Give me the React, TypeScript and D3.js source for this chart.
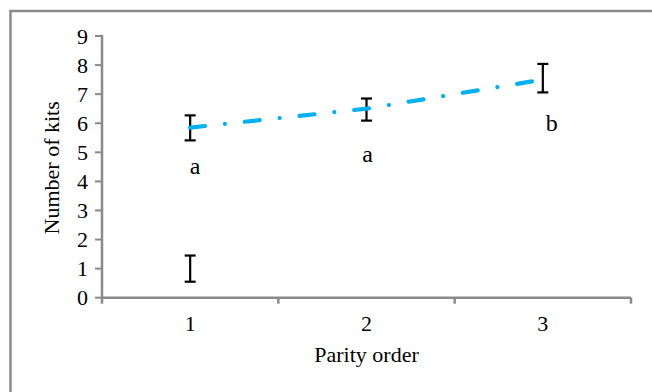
import React from 'react';
import * as d3 from 'd3';

// parity order categories
const parities = ['1', '2', '3'];
// mean number of kits (dash-dot trend line)
const meanKits = [5.85, 6.5, 7.5];
// error bar centres and half-widths
const barCentres = [5.84, 6.47, 7.55];
const barErrors = [0.43, 0.38, 0.49];
// lone error bar at parity 1
const extraParity = ['1'];
const extraCentre = [1.0];
const extraError = [0.45];
// significance letters and where they sit (value on the y scale)
const letters = ['a', 'a', 'b'];
const letterAt = [4.27, 4.65, 5.72];
const letterShift = [5, 1, 9];
const yTicks = [0, 1, 2, 3, 4, 5, 6, 7, 8, 9];

const W = 652;
const H = 392;
const margin = { top: 36, right: 21, bottom: 95, left: 102 };
const FONT = '"Liberation Serif", "Times New Roman", serif';
const GREY = '#8a8a8a';

export default function App() {
  const x = d3.scaleBand().domain(parities).range([margin.left, W - margin.right]);
  const y = d3.scaleLinear().domain([0, 9]).range([H - margin.bottom + 0.7, margin.top]);
  const cx = (p: string) => (x(p) as number) + x.bandwidth() / 2;

  const line = d3
    .line<number>()
    .x((_, i) => cx(parities[i]))
    .y((d) => y(d));

  const y0 = y(0);
  const capW = 11;

  const errBar = (key: string, px: number, c: number, e: number) => (
    <g key={key} stroke="#000" strokeWidth={2.2}>
      <line x1={px} x2={px} y1={y(c - e)} y2={y(c + e)} />
      <line x1={px - capW / 2} x2={px + capW / 2} y1={y(c - e)} y2={y(c - e)} />
      <line x1={px - capW / 2} x2={px + capW / 2} y1={y(c + e)} y2={y(c + e)} />
    </g>
  );

  const bandEdges = [...parities.map((p) => x(p) as number), W - margin.right];

  return (
    <svg
      width={W}
      height={H}
      style={{ position: 'absolute', left: 0, top: 0, background: '#fff' }}
      fontFamily={FONT}
    >
      {/* outer frame, cut by the picture on the right and bottom */}
      <rect x={10.5} y={11} width={W + 10} height={H + 10} fill="none" stroke={GREY} strokeWidth={2.5} />

      {/* y axis */}
      <line x1={margin.left} x2={margin.left} y1={y(9) - 1} y2={y0 + 1} stroke={GREY} strokeWidth={2.5} />
      {yTicks.map((t) => (
        <g key={t}>
          <line x1={margin.left - 7} x2={margin.left} y1={y(t)} y2={y(t)} stroke={GREY} strokeWidth={2} />
          <text x={88} y={y(t) + 7.5} textAnchor="end" fontSize={22} fill="#000">
            {t}
          </text>
        </g>
      ))}

      {/* x axis */}
      <line x1={margin.left} x2={W - margin.right} y1={y0} y2={y0} stroke={GREY} strokeWidth={2.5} />
      {bandEdges.map((bx, i) => (
        <line key={i} x1={bx} x2={bx} y1={y0} y2={y0 + 6} stroke={GREY} strokeWidth={2.5} />
      ))}
      {parities.map((p) => (
        <text key={p} x={cx(p)} y={331} textAnchor="middle" fontSize={22} fill="#000">
          {p}
        </text>
      ))}

      <text x={(margin.left + W - margin.right) / 2} y={362} textAnchor="middle" fontSize={22} fill="#000">
        Parity order
      </text>
      <text
        transform={`translate(59, ${(margin.top + y0) / 2 + 1}) rotate(-90)`}
        textAnchor="middle"
        fontSize={22}
        fill="#000"
      >
        Number of kits
      </text>

      {/* error bars */}
      {parities.map((p, i) => errBar('e' + p, cx(p), barCentres[i], barErrors[i]))}
      {extraParity.map((p, i) => errBar('x' + p, cx(p), extraCentre[i], extraError[i]))}

      {/* dash-dot trend */}
      <path
        d={line(meanKits) || ''}
        fill="none"
        stroke="#00b0f0"
        strokeWidth={4.2}
        strokeLinecap="round"
        strokeDasharray="15,20,0.01,20"
      />

      {/* letters */}
      {letters.map((l, i) => (
        <text
          key={i}
          x={cx(parities[i]) + letterShift[i]}
          y={y(letterAt[i])}
          textAnchor="middle"
          fontSize={24}
          fill="#000"
        >
          {l}
        </text>
      ))}
    </svg>
  );
}
